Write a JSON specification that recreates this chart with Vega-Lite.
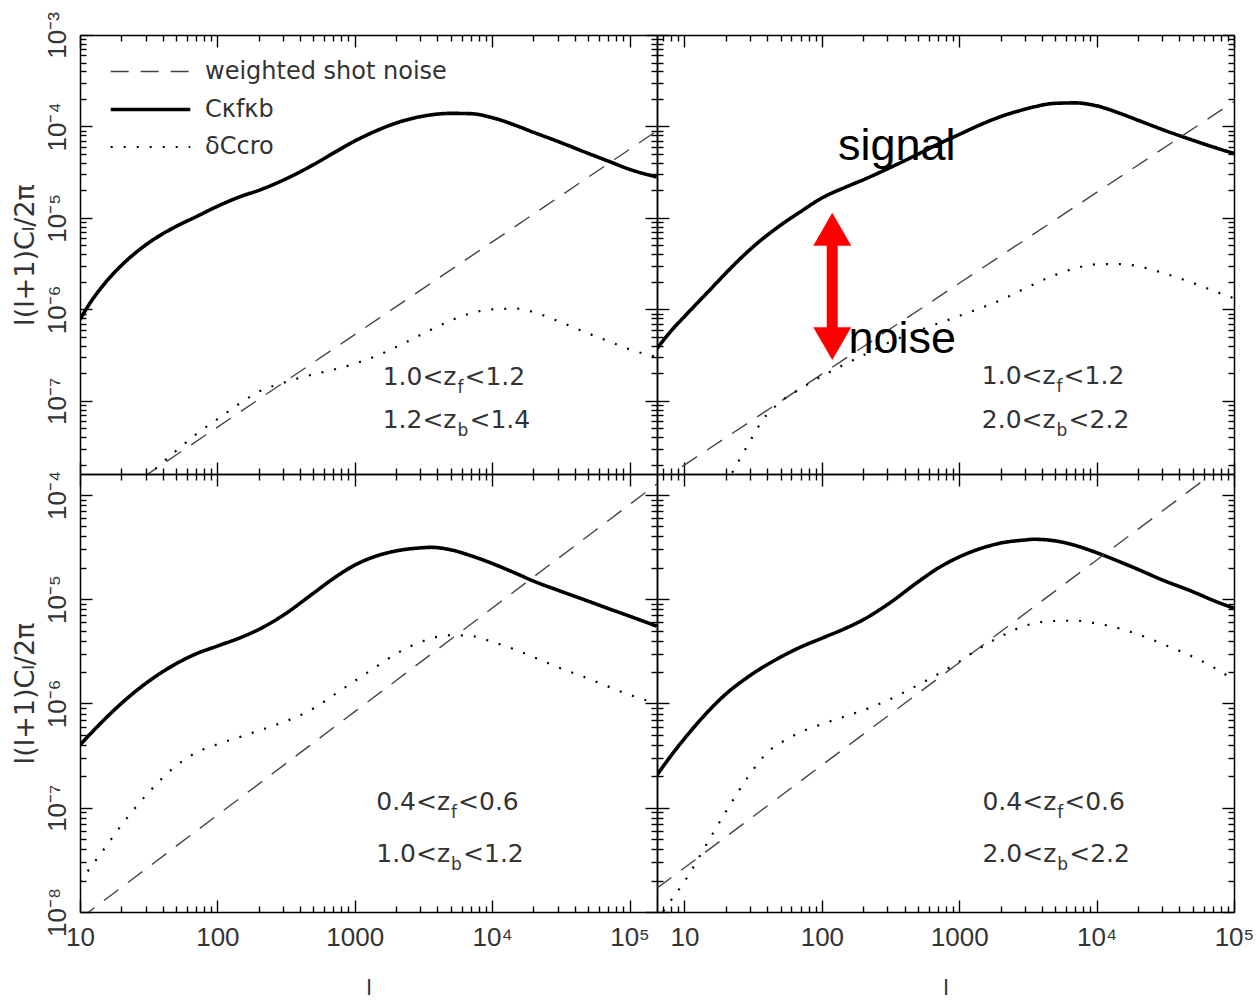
{
  "$schema": "https://vega.github.io/schema/vega-lite/v6.json",
  "background": "white",
  "padding": {"left": 10, "top": 11, "right": 0, "bottom": 0},
  "config": {
    "view": {"stroke": null},
    "axis": {"grid": false, "domainColor": "#000", "domainWidth": 1.5, "tickColor": "#000", "tickWidth": 1.4, "labelFont": "Liberation Sans", "labelFontSize": 26, "labelColor": "#333", "labelOverlap": false, "labelFlush": false, "labelBound": false, "titleFont": "DejaVu Sans", "titleFontSize": 27, "titleFontWeight": "normal", "titleColor": "#333"}
  },
  "datasets": {
    "curves": [
      {"panel":"TL","series":"signal","l":10,"v":7.74e-7},{"panel":"TL","series":"signal","l":12,"v":1.21e-6},{"panel":"TL","series":"signal","l":15,"v":1.89e-6},{"panel":"TL","series":"signal","l":20,"v":3.02e-6},{"panel":"TL","series":"signal","l":30,"v":5.05e-6},{"panel":"TL","series":"signal","l":50,"v":8.07e-6},{"panel":"TL","series":"signal","l":70,"v":1.03e-5},{"panel":"TL","series":"signal","l":100,"v":1.34e-5},{"panel":"TL","series":"signal","l":150,"v":1.73e-5},{"panel":"TL","series":"signal","l":200,"v":2.0e-5},{"panel":"TL","series":"signal","l":300,"v":2.58e-5},{"panel":"TL","series":"signal","l":500,"v":3.82e-5},{"panel":"TL","series":"signal","l":700,"v":5.12e-5},{"panel":"TL","series":"signal","l":1000,"v":6.93e-5},{"panel":"TL","series":"signal","l":1500,"v":9.23e-5},{"panel":"TL","series":"signal","l":2000,"v":1.09e-4},{"panel":"TL","series":"signal","l":3000,"v":1.28e-4},{"panel":"TL","series":"signal","l":5000,"v":1.39e-4},{"panel":"TL","series":"signal","l":7000,"v":1.38e-4},{"panel":"TL","series":"signal","l":10000,"v":1.25e-4},{"panel":"TL","series":"signal","l":15000,"v":1.02e-4},{"panel":"TL","series":"signal","l":20000,"v":8.63e-5},{"panel":"TL","series":"signal","l":30000,"v":6.87e-5},{"panel":"TL","series":"signal","l":50000,"v":5.08e-5},{"panel":"TL","series":"signal","l":70000,"v":4.18e-5},{"panel":"TL","series":"signal","l":100000,"v":3.40e-5},{"panel":"TL","series":"signal","l":158000,"v":2.80e-5},
      {"panel":"TL","series":"noise","l":28,"v":1.42e-8},{"panel":"TL","series":"noise","l":1000,"v":5.30e-7},{"panel":"TL","series":"noise","l":158000,"v":8.93e-5},
      {"panel":"TL","series":"cross","l":30,"v":1.45e-8},{"panel":"TL","series":"cross","l":50,"v":2.84e-8},{"panel":"TL","series":"cross","l":70,"v":4.31e-8},{"panel":"TL","series":"cross","l":100,"v":6.30e-8},{"panel":"TL","series":"cross","l":150,"v":9.66e-8},{"panel":"TL","series":"cross","l":200,"v":1.26e-7},{"panel":"TL","series":"cross","l":300,"v":1.57e-7},{"panel":"TL","series":"cross","l":500,"v":1.95e-7},{"panel":"TL","series":"cross","l":700,"v":2.19e-7},{"panel":"TL","series":"cross","l":1000,"v":2.55e-7},{"panel":"TL","series":"cross","l":1500,"v":3.18e-7},{"panel":"TL","series":"cross","l":2000,"v":3.87e-7},{"panel":"TL","series":"cross","l":3000,"v":5.24e-7},{"panel":"TL","series":"cross","l":5000,"v":7.55e-7},{"panel":"TL","series":"cross","l":7000,"v":9.06e-7},{"panel":"TL","series":"cross","l":10000,"v":1.0e-6},{"panel":"TL","series":"cross","l":15000,"v":1.02e-6},{"panel":"TL","series":"cross","l":20000,"v":9.35e-7},{"panel":"TL","series":"cross","l":30000,"v":7.48e-7},{"panel":"TL","series":"cross","l":50000,"v":5.46e-7},{"panel":"TL","series":"cross","l":70000,"v":4.49e-7},{"panel":"TL","series":"cross","l":100000,"v":3.66e-7},{"panel":"TL","series":"cross","l":158000,"v":3.0e-7},
      {"panel":"TR","series":"signal","l":6.31,"v":3.73e-7},{"panel":"TR","series":"signal","l":8,"v":5.83e-7},{"panel":"TR","series":"signal","l":10,"v":8.36e-7},{"panel":"TR","series":"signal","l":15,"v":1.58e-6},{"panel":"TR","series":"signal","l":20,"v":2.49e-6},{"panel":"TR","series":"signal","l":30,"v":4.51e-6},{"panel":"TR","series":"signal","l":50,"v":8.32e-6},{"panel":"TR","series":"signal","l":70,"v":1.17e-5},{"panel":"TR","series":"signal","l":100,"v":1.65e-5},{"panel":"TR","series":"signal","l":150,"v":2.18e-5},{"panel":"TR","series":"signal","l":200,"v":2.61e-5},{"panel":"TR","series":"signal","l":300,"v":3.44e-5},{"panel":"TR","series":"signal","l":500,"v":4.97e-5},{"panel":"TR","series":"signal","l":700,"v":6.40e-5},{"panel":"TR","series":"signal","l":1000,"v":8.18e-5},{"panel":"TR","series":"signal","l":1500,"v":1.08e-4},{"panel":"TR","series":"signal","l":2000,"v":1.28e-4},{"panel":"TR","series":"signal","l":3000,"v":1.54e-4},{"panel":"TR","series":"signal","l":5000,"v":1.79e-4},{"panel":"TR","series":"signal","l":7000,"v":1.81e-4},{"panel":"TR","series":"signal","l":10000,"v":1.68e-4},{"panel":"TR","series":"signal","l":15000,"v":1.38e-4},{"panel":"TR","series":"signal","l":20000,"v":1.17e-4},{"panel":"TR","series":"signal","l":30000,"v":9.27e-5},{"panel":"TR","series":"signal","l":50000,"v":7.08e-5},{"panel":"TR","series":"signal","l":70000,"v":5.98e-5},{"panel":"TR","series":"signal","l":100000,"v":5.07e-5},
      {"panel":"TR","series":"noise","l":6.31,"v":1.26e-8},{"panel":"TR","series":"noise","l":1000,"v":1.93e-6},{"panel":"TR","series":"noise","l":100000,"v":1.87e-4},
      {"panel":"TR","series":"cross","l":20,"v":1.23e-8},{"panel":"TR","series":"cross","l":25,"v":2.24e-8},{"panel":"TR","series":"cross","l":30,"v":3.62e-8},{"panel":"TR","series":"cross","l":37,"v":6.14e-8},{"panel":"TR","series":"cross","l":50,"v":9.75e-8},{"panel":"TR","series":"cross","l":70,"v":1.36e-7},{"panel":"TR","series":"cross","l":100,"v":1.86e-7},{"panel":"TR","series":"cross","l":150,"v":2.55e-7},{"panel":"TR","series":"cross","l":200,"v":3.15e-7},{"panel":"TR","series":"cross","l":300,"v":4.27e-7},{"panel":"TR","series":"cross","l":500,"v":5.82e-7},{"panel":"TR","series":"cross","l":700,"v":7.0e-7},{"panel":"TR","series":"cross","l":1000,"v":8.47e-7},{"panel":"TR","series":"cross","l":1500,"v":1.06e-6},{"panel":"TR","series":"cross","l":2000,"v":1.26e-6},{"panel":"TR","series":"cross","l":3000,"v":1.69e-6},{"panel":"TR","series":"cross","l":5000,"v":2.38e-6},{"panel":"TR","series":"cross","l":7000,"v":2.82e-6},{"panel":"TR","series":"cross","l":10000,"v":3.11e-6},{"panel":"TR","series":"cross","l":15000,"v":3.13e-6},{"panel":"TR","series":"cross","l":20000,"v":2.97e-6},{"panel":"TR","series":"cross","l":30000,"v":2.52e-6},{"panel":"TR","series":"cross","l":50000,"v":1.95e-6},{"panel":"TR","series":"cross","l":70000,"v":1.61e-6},{"panel":"TR","series":"cross","l":100000,"v":1.32e-6},
      {"panel":"BL","series":"signal","l":10,"v":4.0e-7},{"panel":"BL","series":"signal","l":15,"v":6.98e-7},{"panel":"BL","series":"signal","l":20,"v":1.0e-6},{"panel":"BL","series":"signal","l":30,"v":1.55e-6},{"panel":"BL","series":"signal","l":50,"v":2.40e-6},{"panel":"BL","series":"signal","l":70,"v":2.99e-6},{"panel":"BL","series":"signal","l":100,"v":3.55e-6},{"panel":"BL","series":"signal","l":150,"v":4.32e-6},{"panel":"BL","series":"signal","l":200,"v":5.12e-6},{"panel":"BL","series":"signal","l":300,"v":6.98e-6},{"panel":"BL","series":"signal","l":500,"v":1.14e-5},{"panel":"BL","series":"signal","l":700,"v":1.58e-5},{"panel":"BL","series":"signal","l":1000,"v":2.12e-5},{"panel":"BL","series":"signal","l":1500,"v":2.64e-5},{"panel":"BL","series":"signal","l":2000,"v":2.90e-5},{"panel":"BL","series":"signal","l":3000,"v":3.10e-5},{"panel":"BL","series":"signal","l":3600,"v":3.14e-5},{"panel":"BL","series":"signal","l":5000,"v":2.97e-5},{"panel":"BL","series":"signal","l":7000,"v":2.61e-5},{"panel":"BL","series":"signal","l":10000,"v":2.20e-5},{"panel":"BL","series":"signal","l":15000,"v":1.76e-5},{"panel":"BL","series":"signal","l":20000,"v":1.49e-5},{"panel":"BL","series":"signal","l":30000,"v":1.22e-5},{"panel":"BL","series":"signal","l":50000,"v":9.57e-6},{"panel":"BL","series":"signal","l":70000,"v":8.13e-6},{"panel":"BL","series":"signal","l":100000,"v":6.87e-6},{"panel":"BL","series":"signal","l":158000,"v":5.51e-6},
      {"panel":"BL","series":"noise","l":10,"v":8.65e-9},{"panel":"BL","series":"noise","l":1000,"v":8.34e-7},{"panel":"BL","series":"noise","l":158000,"v":1.27e-4},
      {"panel":"BL","series":"cross","l":10,"v":1.95e-8},{"panel":"BL","series":"cross","l":15,"v":4.03e-8},{"panel":"BL","series":"cross","l":20,"v":6.78e-8},{"panel":"BL","series":"cross","l":30,"v":1.30e-7},{"panel":"BL","series":"cross","l":50,"v":2.52e-7},{"panel":"BL","series":"cross","l":70,"v":3.37e-7},{"panel":"BL","series":"cross","l":100,"v":4.05e-7},{"panel":"BL","series":"cross","l":150,"v":4.83e-7},{"panel":"BL","series":"cross","l":200,"v":5.48e-7},{"panel":"BL","series":"cross","l":300,"v":6.59e-7},{"panel":"BL","series":"cross","l":500,"v":8.93e-7},{"panel":"BL","series":"cross","l":700,"v":1.20e-6},{"panel":"BL","series":"cross","l":1000,"v":1.64e-6},{"panel":"BL","series":"cross","l":1500,"v":2.34e-6},{"panel":"BL","series":"cross","l":2000,"v":2.99e-6},{"panel":"BL","series":"cross","l":3000,"v":3.87e-6},{"panel":"BL","series":"cross","l":5000,"v":4.51e-6},{"panel":"BL","series":"cross","l":7000,"v":4.44e-6},{"panel":"BL","series":"cross","l":10000,"v":3.90e-6},{"panel":"BL","series":"cross","l":15000,"v":3.25e-6},{"panel":"BL","series":"cross","l":20000,"v":2.78e-6},{"panel":"BL","series":"cross","l":30000,"v":2.23e-6},{"panel":"BL","series":"cross","l":50000,"v":1.73e-6},{"panel":"BL","series":"cross","l":70000,"v":1.45e-6},{"panel":"BL","series":"cross","l":100000,"v":1.21e-6},{"panel":"BL","series":"cross","l":158000,"v":1.0e-6},
      {"panel":"BR","series":"signal","l":6.31,"v":2.06e-7},{"panel":"BR","series":"signal","l":8,"v":3.17e-7},{"panel":"BR","series":"signal","l":10,"v":4.60e-7},{"panel":"BR","series":"signal","l":15,"v":8.49e-7},{"panel":"BR","series":"signal","l":20,"v":1.23e-6},{"panel":"BR","series":"signal","l":30,"v":1.85e-6},{"panel":"BR","series":"signal","l":50,"v":2.78e-6},{"panel":"BR","series":"signal","l":70,"v":3.47e-6},{"panel":"BR","series":"signal","l":100,"v":4.22e-6},{"panel":"BR","series":"signal","l":150,"v":5.28e-6},{"panel":"BR","series":"signal","l":200,"v":6.35e-6},{"panel":"BR","series":"signal","l":300,"v":8.87e-6},{"panel":"BR","series":"signal","l":500,"v":1.46e-5},{"panel":"BR","series":"signal","l":700,"v":1.98e-5},{"panel":"BR","series":"signal","l":1000,"v":2.54e-5},{"panel":"BR","series":"signal","l":1500,"v":3.12e-5},{"panel":"BR","series":"signal","l":2000,"v":3.45e-5},{"panel":"BR","series":"signal","l":3000,"v":3.69e-5},{"panel":"BR","series":"signal","l":3500,"v":3.75e-5},{"panel":"BR","series":"signal","l":5000,"v":3.62e-5},{"panel":"BR","series":"signal","l":7000,"v":3.27e-5},{"panel":"BR","series":"signal","l":10000,"v":2.79e-5},{"panel":"BR","series":"signal","l":15000,"v":2.26e-5},{"panel":"BR","series":"signal","l":20000,"v":1.93e-5},{"panel":"BR","series":"signal","l":30000,"v":1.53e-5},{"panel":"BR","series":"signal","l":50000,"v":1.18e-5},{"panel":"BR","series":"signal","l":70000,"v":9.77e-6},{"panel":"BR","series":"signal","l":100000,"v":8.17e-6},
      {"panel":"BR","series":"noise","l":6.31,"v":1.69e-8},{"panel":"BR","series":"noise","l":1000,"v":2.46e-6},{"panel":"BR","series":"noise","l":100000,"v":2.28e-4},
      {"panel":"BR","series":"cross","l":7,"v":1.02e-8},{"panel":"BR","series":"cross","l":8,"v":1.30e-8},{"panel":"BR","series":"cross","l":10,"v":1.96e-8},{"panel":"BR","series":"cross","l":15,"v":4.84e-8},{"panel":"BR","series":"cross","l":20,"v":9.16e-8},{"panel":"BR","series":"cross","l":30,"v":2.10e-7},{"panel":"BR","series":"cross","l":42,"v":3.58e-7},{"panel":"BR","series":"cross","l":50,"v":4.18e-7},{"panel":"BR","series":"cross","l":70,"v":5.31e-7},{"panel":"BR","series":"cross","l":100,"v":6.32e-7},{"panel":"BR","series":"cross","l":150,"v":7.57e-7},{"panel":"BR","series":"cross","l":200,"v":8.59e-7},{"panel":"BR","series":"cross","l":300,"v":1.07e-6},{"panel":"BR","series":"cross","l":500,"v":1.50e-6},{"panel":"BR","series":"cross","l":700,"v":1.91e-6},{"panel":"BR","series":"cross","l":1000,"v":2.52e-6},{"panel":"BR","series":"cross","l":1500,"v":3.56e-6},{"panel":"BR","series":"cross","l":2000,"v":4.38e-6},{"panel":"BR","series":"cross","l":3000,"v":5.55e-6},{"panel":"BR","series":"cross","l":5000,"v":6.18e-6},{"panel":"BR","series":"cross","l":7000,"v":6.21e-6},{"panel":"BR","series":"cross","l":10000,"v":5.85e-6},{"panel":"BR","series":"cross","l":15000,"v":5.19e-6},{"panel":"BR","series":"cross","l":20000,"v":4.60e-6},{"panel":"BR","series":"cross","l":30000,"v":3.73e-6},{"panel":"BR","series":"cross","l":50000,"v":2.81e-6},{"panel":"BR","series":"cross","l":70000,"v":2.24e-6},{"panel":"BR","series":"cross","l":100000,"v":1.68e-6}
    ],
    "zlabels": [
      {"panel":"TL","l":5500,"v":1.48e-7,"head":"1.0<z","sub":"f","tail":"<1.2"},
      {"panel":"TL","l":5500,"v":5.01e-8,"head":"1.2<z","sub":"b","tail":"<1.4"},
      {"panel":"TR","l":5030,"v":1.52e-7,"head":"1.0<z","sub":"f","tail":"<1.2"},
      {"panel":"TR","l":5030,"v":5.01e-8,"head":"2.0<z","sub":"b","tail":"<2.2"},
      {"panel":"BL","l":4940,"v":9.53e-8,"head":"0.4<z","sub":"f","tail":"<0.6"},
      {"panel":"BL","l":4940,"v":3.02e-8,"head":"1.0<z","sub":"b","tail":"<1.2"},
      {"panel":"BR","l":5085,"v":9.53e-8,"head":"0.4<z","sub":"f","tail":"<0.6"},
      {"panel":"BR","l":5085,"v":3.02e-8,"head":"2.0<z","sub":"b","tail":"<2.2"}
    ],
    "words": [
      {"panel":"TR","l":351,"v":4.28e-5,"word":"signal"},
      {"panel":"TR","l":385,"v":3.32e-7,"word":"noise"}
    ],
    "arrow": [
      {"panel":"TR","l":119,"v":7.53e-6,"v2":4.22e-7}
    ],
    "heads": [
      {"panel":"TR","l":119,"v":7.53e-6,"dir":"up"},
      {"panel":"TR","l":119,"v":4.22e-7,"dir":"down"}
    ]
  },
  "columns": 2,
  "spacing": 0,
  "bounds": "flush",
  "resolve": {"scale": {"color": "independent", "strokeDash": "independent", "strokeWidth": "independent", "shape": "independent"}},
  "concat": [
    {
      "width": 577, "height": 439,
      "resolve": {"axis": {"x": "independent", "y": "independent"}},
      "layer": [
        {
          "data": {"name": "curves"},
          "transform": [{"filter": "datum.panel == 'TL'"}],
          "mark": {"type": "line", "clip": true, "interpolate": "monotone"},
          "encoding": {
            "x": {"field": "l", "type": "quantitative", "scale": {"type": "log", "domain": [10, 158489], "nice": false},
              "axis": {"orient": "bottom", "values": [10,20,30,40,50,60,70,80,90,100,200,300,400,500,600,700,800,900,1000,2000,3000,4000,5000,6000,7000,8000,9000,10000,20000,30000,40000,50000,60000,70000,80000,90000,100000], "labels": false, "title": null,
                "tickSize": {"condition": {"test": "abs(log(datum.value)/LN10 - round(log(datum.value)/LN10)) < 0.001", "value": -12}, "value": -6}}},
            "y": {"field": "v", "type": "quantitative", "scale": {"type": "log", "domain": [1.585e-8, 1e-3], "nice": false},
              "axis": {"orient": "left", "values": [2e-8,3e-8,4e-8,5e-8,6e-8,7e-8,8e-8,9e-8,1e-7,2e-7,3e-7,4e-7,5e-7,6e-7,7e-7,8e-7,9e-7,1e-6,2e-6,3e-6,4e-6,5e-6,6e-6,7e-6,8e-6,9e-6,1e-5,2e-5,3e-5,4e-5,5e-5,6e-5,7e-5,8e-5,9e-5,1e-4,2e-4,3e-4,4e-4,5e-4,6e-4,7e-4,8e-4,9e-4,1e-3],
                "labelExpr": "datum.value == 1e-3 ? '10⁻³' : datum.value == 1e-4 ? '10⁻⁴' : datum.value == 1e-5 ? '10⁻⁵' : datum.value == 1e-6 ? '10⁻⁶' : datum.value == 1e-7 ? '10⁻⁷' : datum.value == 1e-8 ? '10⁻⁸' : ''",
                "labelAngle": 270, "labelAlign": "center", "labelBaseline": "alphabetic", "labelPadding": 27,
                "tickSize": {"condition": {"test": "abs(log(datum.value)/LN10 - round(log(datum.value)/LN10)) < 0.001", "value": -12}, "value": -6},
                "title": "l(l+1)Cₗ/2π", "titlePadding": -1}},
            "color": {"field": "series", "type": "nominal", "scale": {"domain": ["noise", "signal", "cross"], "range": ["#444444", "#000000", "#000000"]},
              "legend": {"orient": "none", "legendX": 52, "legendY": 19, "title": null, "padding": 0, "symbolType": "M-2.4,0H2.4", "symbolSize": 1100, "labelFont": "DejaVu Sans", "labelFontSize": 24, "labelColor": "#333", "labelOffset": 36, "rowPadding": 7, "labelLimit": 400,
                "labelExpr": "datum.value == 'noise' ? 'weighted shot noise' : datum.value == 'signal' ? 'Cκfκb' : 'δCcro'"}},
            "strokeDash": {"field": "series", "type": "nominal", "scale": {"domain": ["noise", "signal", "cross"], "range": [[18, 12], [1, 0], [2, 11]]},
              "legend": {"orient": "none", "legendX": 52, "legendY": 19, "title": null, "padding": 0, "symbolType": "M-2.4,0H2.4", "symbolSize": 1100, "labelFont": "DejaVu Sans", "labelFontSize": 24, "labelColor": "#333", "labelOffset": 36, "rowPadding": 7, "labelLimit": 400,
                "labelExpr": "datum.value == 'noise' ? 'weighted shot noise' : datum.value == 'signal' ? 'Cκfκb' : 'δCcro'"}},
            "strokeWidth": {"field": "series", "type": "nominal", "scale": {"type": "ordinal", "domain": ["noise", "signal", "cross"], "range": [1.4, 3.6, 2.2]},
              "legend": {"orient": "none", "legendX": 52, "legendY": 19, "title": null, "padding": 0, "symbolType": "M-2.4,0H2.4", "symbolSize": 1100, "labelFont": "DejaVu Sans", "labelFontSize": 24, "labelColor": "#333", "labelOffset": 36, "rowPadding": 7, "labelLimit": 400,
                "labelExpr": "datum.value == 'noise' ? 'weighted shot noise' : datum.value == 'signal' ? 'Cκfκb' : 'δCcro'"}}
          }
        },
        {
          "data": {"name": "zlabels"},
          "transform": [{"filter": "datum.panel == 'TL'"}],
          "mark": {"type": "text", "align": "right", "baseline": "alphabetic", "font": "DejaVu Sans", "fontSize": 25, "color": "#333"},
          "encoding": {
            "x": {"field": "l", "type": "quantitative", "scale": {"type": "log", "domain": [10, 158489], "nice": false},
              "axis": {"orient": "top", "values": [10,20,30,40,50,60,70,80,90,100,200,300,400,500,600,700,800,900,1000,2000,3000,4000,5000,6000,7000,8000,9000,10000,20000,30000,40000,50000,60000,70000,80000,90000,100000], "labels": false, "title": null,
                "tickSize": {"condition": {"test": "abs(log(datum.value)/LN10 - round(log(datum.value)/LN10)) < 0.001", "value": -12}, "value": -6}}},
            "y": {"field": "v", "type": "quantitative", "scale": {"type": "log", "domain": [1.585e-8, 1e-3], "nice": false},
              "axis": {"orient": "right", "values": [2e-8,3e-8,4e-8,5e-8,6e-8,7e-8,8e-8,9e-8,1e-7,2e-7,3e-7,4e-7,5e-7,6e-7,7e-7,8e-7,9e-7,1e-6,2e-6,3e-6,4e-6,5e-6,6e-6,7e-6,8e-6,9e-6,1e-5,2e-5,3e-5,4e-5,5e-5,6e-5,7e-5,8e-5,9e-5,1e-4,2e-4,3e-4,4e-4,5e-4,6e-4,7e-4,8e-4,9e-4,1e-3], "labels": false, "title": null,
                "tickSize": {"condition": {"test": "abs(log(datum.value)/LN10 - round(log(datum.value)/LN10)) < 0.001", "value": -12}, "value": -6}}},
            "text": {"field": "head"}
          }
        },
        {
          "data": {"name": "zlabels"},
          "transform": [{"filter": "datum.panel == 'TL'"}],
          "mark": {"type": "text", "align": "left", "baseline": "alphabetic", "font": "DejaVu Sans", "fontSize": 17, "color": "#333", "dx": 1, "dy": 8},
          "encoding": {
            "x": {"field": "l", "type": "quantitative", "scale": {"type": "log", "domain": [10, 158489], "nice": false}, "axis": null},
            "y": {"field": "v", "type": "quantitative", "scale": {"type": "log", "domain": [1.585e-8, 1e-3], "nice": false}, "axis": null},
            "text": {"field": "sub"}
          }
        },
        {
          "data": {"name": "zlabels"},
          "transform": [{"filter": "datum.panel == 'TL' && datum.sub == 'f'"}],
          "mark": {"type": "text", "align": "left", "baseline": "alphabetic", "font": "DejaVu Sans", "fontSize": 25, "color": "#333", "dx": 8},
          "encoding": {
            "x": {"field": "l", "type": "quantitative", "scale": {"type": "log", "domain": [10, 158489], "nice": false}, "axis": null},
            "y": {"field": "v", "type": "quantitative", "scale": {"type": "log", "domain": [1.585e-8, 1e-3], "nice": false}, "axis": null},
            "text": {"field": "tail"}
          }
        },
        {
          "data": {"name": "zlabels"},
          "transform": [{"filter": "datum.panel == 'TL' && datum.sub == 'b'"}],
          "mark": {"type": "text", "align": "left", "baseline": "alphabetic", "font": "DejaVu Sans", "fontSize": 25, "color": "#333", "dx": 13},
          "encoding": {
            "x": {"field": "l", "type": "quantitative", "scale": {"type": "log", "domain": [10, 158489], "nice": false}, "axis": null},
            "y": {"field": "v", "type": "quantitative", "scale": {"type": "log", "domain": [1.585e-8, 1e-3], "nice": false}, "axis": null},
            "text": {"field": "tail"}
          }
        }
      ]
    },
    {
      "width": 577, "height": 439,
      "resolve": {"axis": {"x": "independent", "y": "independent"}},
      "layer": [
        {
          "data": {"name": "curves"},
          "transform": [{"filter": "datum.panel == 'TR'"}],
          "mark": {"type": "line", "clip": true, "interpolate": "monotone"},
          "encoding": {
            "x": {"field": "l", "type": "quantitative", "scale": {"type": "log", "domain": [6.3096, 100000], "nice": false},
              "axis": {"orient": "bottom", "values": [7,8,9,10,20,30,40,50,60,70,80,90,100,200,300,400,500,600,700,800,900,1000,2000,3000,4000,5000,6000,7000,8000,9000,10000,20000,30000,40000,50000,60000,70000,80000,90000,100000], "labels": false, "title": null,
                "tickSize": {"condition": {"test": "abs(log(datum.value)/LN10 - round(log(datum.value)/LN10)) < 0.001", "value": -12}, "value": -6}}},
            "y": {"field": "v", "type": "quantitative", "scale": {"type": "log", "domain": [1.585e-8, 1e-3], "nice": false},
              "axis": {"orient": "left", "values": [2e-8,3e-8,4e-8,5e-8,6e-8,7e-8,8e-8,9e-8,1e-7,2e-7,3e-7,4e-7,5e-7,6e-7,7e-7,8e-7,9e-7,1e-6,2e-6,3e-6,4e-6,5e-6,6e-6,7e-6,8e-6,9e-6,1e-5,2e-5,3e-5,4e-5,5e-5,6e-5,7e-5,8e-5,9e-5,1e-4,2e-4,3e-4,4e-4,5e-4,6e-4,7e-4,8e-4,9e-4,1e-3], "labels": false, "title": null,
                "tickSize": {"condition": {"test": "abs(log(datum.value)/LN10 - round(log(datum.value)/LN10)) < 0.001", "value": -12}, "value": -6}}},
            "color": {"field": "series", "type": "nominal", "scale": {"domain": ["noise", "signal", "cross"], "range": ["#444444", "#000000", "#000000"]}, "legend": null},
            "strokeDash": {"field": "series", "type": "nominal", "scale": {"domain": ["noise", "signal", "cross"], "range": [[18, 12], [1, 0], [2, 11]]}, "legend": null},
            "strokeWidth": {"field": "series", "type": "nominal", "scale": {"type": "ordinal", "domain": ["noise", "signal", "cross"], "range": [1.4, 3.6, 2.2]}, "legend": null}
          }
        },
        {
          "data": {"name": "zlabels"},
          "transform": [{"filter": "datum.panel == 'TR'"}],
          "mark": {"type": "text", "align": "right", "baseline": "alphabetic", "font": "DejaVu Sans", "fontSize": 25, "color": "#333"},
          "encoding": {
            "x": {"field": "l", "type": "quantitative", "scale": {"type": "log", "domain": [6.3096, 100000], "nice": false},
              "axis": {"orient": "top", "values": [7,8,9,10,20,30,40,50,60,70,80,90,100,200,300,400,500,600,700,800,900,1000,2000,3000,4000,5000,6000,7000,8000,9000,10000,20000,30000,40000,50000,60000,70000,80000,90000,100000], "labels": false, "title": null,
                "tickSize": {"condition": {"test": "abs(log(datum.value)/LN10 - round(log(datum.value)/LN10)) < 0.001", "value": -12}, "value": -6}}},
            "y": {"field": "v", "type": "quantitative", "scale": {"type": "log", "domain": [1.585e-8, 1e-3], "nice": false},
              "axis": {"orient": "right", "values": [2e-8,3e-8,4e-8,5e-8,6e-8,7e-8,8e-8,9e-8,1e-7,2e-7,3e-7,4e-7,5e-7,6e-7,7e-7,8e-7,9e-7,1e-6,2e-6,3e-6,4e-6,5e-6,6e-6,7e-6,8e-6,9e-6,1e-5,2e-5,3e-5,4e-5,5e-5,6e-5,7e-5,8e-5,9e-5,1e-4,2e-4,3e-4,4e-4,5e-4,6e-4,7e-4,8e-4,9e-4,1e-3], "labels": false, "title": null,
                "tickSize": {"condition": {"test": "abs(log(datum.value)/LN10 - round(log(datum.value)/LN10)) < 0.001", "value": -12}, "value": -6}}},
            "text": {"field": "head"}
          }
        },
        {
          "data": {"name": "zlabels"},
          "transform": [{"filter": "datum.panel == 'TR'"}],
          "mark": {"type": "text", "align": "left", "baseline": "alphabetic", "font": "DejaVu Sans", "fontSize": 17, "color": "#333", "dx": 1, "dy": 8},
          "encoding": {
            "x": {"field": "l", "type": "quantitative", "scale": {"type": "log", "domain": [6.3096, 100000], "nice": false}, "axis": null},
            "y": {"field": "v", "type": "quantitative", "scale": {"type": "log", "domain": [1.585e-8, 1e-3], "nice": false}, "axis": null},
            "text": {"field": "sub"}
          }
        },
        {
          "data": {"name": "zlabels"},
          "transform": [{"filter": "datum.panel == 'TR' && datum.sub == 'f'"}],
          "mark": {"type": "text", "align": "left", "baseline": "alphabetic", "font": "DejaVu Sans", "fontSize": 25, "color": "#333", "dx": 8},
          "encoding": {
            "x": {"field": "l", "type": "quantitative", "scale": {"type": "log", "domain": [6.3096, 100000], "nice": false}, "axis": null},
            "y": {"field": "v", "type": "quantitative", "scale": {"type": "log", "domain": [1.585e-8, 1e-3], "nice": false}, "axis": null},
            "text": {"field": "tail"}
          }
        },
        {
          "data": {"name": "zlabels"},
          "transform": [{"filter": "datum.panel == 'TR' && datum.sub == 'b'"}],
          "mark": {"type": "text", "align": "left", "baseline": "alphabetic", "font": "DejaVu Sans", "fontSize": 25, "color": "#333", "dx": 13},
          "encoding": {
            "x": {"field": "l", "type": "quantitative", "scale": {"type": "log", "domain": [6.3096, 100000], "nice": false}, "axis": null},
            "y": {"field": "v", "type": "quantitative", "scale": {"type": "log", "domain": [1.585e-8, 1e-3], "nice": false}, "axis": null},
            "text": {"field": "tail"}
          }
        },
        {
          "data": {"name": "words"},
          "transform": [{"filter": "datum.panel == 'TR'"}],
          "mark": {"type": "text", "align": "center", "baseline": "alphabetic", "font": "Liberation Sans", "fontSize": 45, "color": "#000"},
          "encoding": {
            "x": {"field": "l", "type": "quantitative", "scale": {"type": "log", "domain": [6.3096, 100000], "nice": false}, "axis": null},
            "y": {"field": "v", "type": "quantitative", "scale": {"type": "log", "domain": [1.585e-8, 1e-3], "nice": false}, "axis": null},
            "text": {"field": "word"}
          }
        },
        {
          "data": {"name": "arrow"},
          "transform": [{"filter": "datum.panel == 'TR'"}],
          "mark": {"type": "rule", "color": "#ff0000", "strokeWidth": 11},
          "encoding": {
            "x": {"field": "l", "type": "quantitative", "scale": {"type": "log", "domain": [6.3096, 100000], "nice": false}, "axis": null},
            "y": {"field": "v", "type": "quantitative", "scale": {"type": "log", "domain": [1.585e-8, 1e-3], "nice": false}, "axis": null},
            "y2": {"field": "v2"}
          }
        },
        {
          "data": {"name": "heads"},
          "transform": [{"filter": "datum.panel == 'TR'"}],
          "mark": {"type": "point", "filled": true, "size": 1444, "color": "#ff0000", "opacity": 1, "strokeWidth": 0},
          "encoding": {
            "x": {"field": "l", "type": "quantitative", "scale": {"type": "log", "domain": [6.3096, 100000], "nice": false}, "axis": null},
            "y": {"field": "v", "type": "quantitative", "scale": {"type": "log", "domain": [1.585e-8, 1e-3], "nice": false}, "axis": null},
            "shape": {"field": "dir", "type": "nominal", "scale": {"domain": ["up", "down"], "range": ["triangle-up", "triangle-down"]}, "legend": null}
          }
        }
      ]
    },
    {
      "width": 577, "height": 438,
      "resolve": {"axis": {"x": "independent", "y": "independent"}},
      "layer": [
        {
          "data": {"name": "curves"},
          "transform": [{"filter": "datum.panel == 'BL'"}],
          "mark": {"type": "line", "clip": true, "interpolate": "monotone"},
          "encoding": {
            "x": {"field": "l", "type": "quantitative", "scale": {"type": "log", "domain": [10, 158489], "nice": false},
              "axis": {"orient": "bottom", "values": [10,20,30,40,50,60,70,80,90,100,200,300,400,500,600,700,800,900,1000,2000,3000,4000,5000,6000,7000,8000,9000,10000,20000,30000,40000,50000,60000,70000,80000,90000,100000],
                "labelExpr": "datum.value == 10 ? '10' : datum.value == 100 ? '100' : datum.value == 1000 ? '1000' : datum.value == 10000 ? '10⁴' : datum.value == 100000 ? '10⁵' : ''",
                "labelAngle": 0, "labelAlign": "center", "labelBaseline": "top", "labelPadding": 24,
                "tickSize": {"condition": {"test": "abs(log(datum.value)/LN10 - round(log(datum.value)/LN10)) < 0.001", "value": -12}, "value": -6},
                "title": "l", "titleFontSize": 22, "titlePadding": 21}},
            "y": {"field": "v", "type": "quantitative", "scale": {"type": "log", "domain": [1e-8, 1.585e-4], "nice": false},
              "axis": {"orient": "left", "values": [1e-8,2e-8,3e-8,4e-8,5e-8,6e-8,7e-8,8e-8,9e-8,1e-7,2e-7,3e-7,4e-7,5e-7,6e-7,7e-7,8e-7,9e-7,1e-6,2e-6,3e-6,4e-6,5e-6,6e-6,7e-6,8e-6,9e-6,1e-5,2e-5,3e-5,4e-5,5e-5,6e-5,7e-5,8e-5,9e-5,1e-4],
                "labelExpr": "datum.value == 1e-3 ? '10⁻³' : datum.value == 1e-4 ? '10⁻⁴' : datum.value == 1e-5 ? '10⁻⁵' : datum.value == 1e-6 ? '10⁻⁶' : datum.value == 1e-7 ? '10⁻⁷' : datum.value == 1e-8 ? '10⁻⁸' : ''",
                "labelAngle": 270, "labelAlign": "center", "labelBaseline": "alphabetic", "labelPadding": 27,
                "tickSize": {"condition": {"test": "abs(log(datum.value)/LN10 - round(log(datum.value)/LN10)) < 0.001", "value": -12}, "value": -6},
                "title": "l(l+1)Cₗ/2π", "titlePadding": -1}},
            "color": {"field": "series", "type": "nominal", "scale": {"domain": ["noise", "signal", "cross"], "range": ["#444444", "#000000", "#000000"]}, "legend": null},
            "strokeDash": {"field": "series", "type": "nominal", "scale": {"domain": ["noise", "signal", "cross"], "range": [[18, 12], [1, 0], [2, 11]]}, "legend": null},
            "strokeWidth": {"field": "series", "type": "nominal", "scale": {"type": "ordinal", "domain": ["noise", "signal", "cross"], "range": [1.4, 3.6, 2.2]}, "legend": null}
          }
        },
        {
          "data": {"name": "zlabels"},
          "transform": [{"filter": "datum.panel == 'BL'"}],
          "mark": {"type": "text", "align": "right", "baseline": "alphabetic", "font": "DejaVu Sans", "fontSize": 25, "color": "#333"},
          "encoding": {
            "x": {"field": "l", "type": "quantitative", "scale": {"type": "log", "domain": [10, 158489], "nice": false},
              "axis": {"orient": "top", "values": [10,20,30,40,50,60,70,80,90,100,200,300,400,500,600,700,800,900,1000,2000,3000,4000,5000,6000,7000,8000,9000,10000,20000,30000,40000,50000,60000,70000,80000,90000,100000], "labels": false, "title": null,
                "tickSize": {"condition": {"test": "abs(log(datum.value)/LN10 - round(log(datum.value)/LN10)) < 0.001", "value": -12}, "value": -6}}},
            "y": {"field": "v", "type": "quantitative", "scale": {"type": "log", "domain": [1e-8, 1.585e-4], "nice": false},
              "axis": {"orient": "right", "values": [1e-8,2e-8,3e-8,4e-8,5e-8,6e-8,7e-8,8e-8,9e-8,1e-7,2e-7,3e-7,4e-7,5e-7,6e-7,7e-7,8e-7,9e-7,1e-6,2e-6,3e-6,4e-6,5e-6,6e-6,7e-6,8e-6,9e-6,1e-5,2e-5,3e-5,4e-5,5e-5,6e-5,7e-5,8e-5,9e-5,1e-4], "labels": false, "title": null,
                "tickSize": {"condition": {"test": "abs(log(datum.value)/LN10 - round(log(datum.value)/LN10)) < 0.001", "value": -12}, "value": -6}}},
            "text": {"field": "head"}
          }
        },
        {
          "data": {"name": "zlabels"},
          "transform": [{"filter": "datum.panel == 'BL'"}],
          "mark": {"type": "text", "align": "left", "baseline": "alphabetic", "font": "DejaVu Sans", "fontSize": 17, "color": "#333", "dx": 1, "dy": 8},
          "encoding": {
            "x": {"field": "l", "type": "quantitative", "scale": {"type": "log", "domain": [10, 158489], "nice": false}, "axis": null},
            "y": {"field": "v", "type": "quantitative", "scale": {"type": "log", "domain": [1e-8, 1.585e-4], "nice": false}, "axis": null},
            "text": {"field": "sub"}
          }
        },
        {
          "data": {"name": "zlabels"},
          "transform": [{"filter": "datum.panel == 'BL' && datum.sub == 'f'"}],
          "mark": {"type": "text", "align": "left", "baseline": "alphabetic", "font": "DejaVu Sans", "fontSize": 25, "color": "#333", "dx": 8},
          "encoding": {
            "x": {"field": "l", "type": "quantitative", "scale": {"type": "log", "domain": [10, 158489], "nice": false}, "axis": null},
            "y": {"field": "v", "type": "quantitative", "scale": {"type": "log", "domain": [1e-8, 1.585e-4], "nice": false}, "axis": null},
            "text": {"field": "tail"}
          }
        },
        {
          "data": {"name": "zlabels"},
          "transform": [{"filter": "datum.panel == 'BL' && datum.sub == 'b'"}],
          "mark": {"type": "text", "align": "left", "baseline": "alphabetic", "font": "DejaVu Sans", "fontSize": 25, "color": "#333", "dx": 13},
          "encoding": {
            "x": {"field": "l", "type": "quantitative", "scale": {"type": "log", "domain": [10, 158489], "nice": false}, "axis": null},
            "y": {"field": "v", "type": "quantitative", "scale": {"type": "log", "domain": [1e-8, 1.585e-4], "nice": false}, "axis": null},
            "text": {"field": "tail"}
          }
        }
      ]
    },
    {
      "width": 577, "height": 438,
      "resolve": {"axis": {"x": "independent", "y": "independent"}},
      "layer": [
        {
          "data": {"name": "curves"},
          "transform": [{"filter": "datum.panel == 'BR'"}],
          "mark": {"type": "line", "clip": true, "interpolate": "monotone"},
          "encoding": {
            "x": {"field": "l", "type": "quantitative", "scale": {"type": "log", "domain": [6.3096, 100000], "nice": false},
              "axis": {"orient": "bottom", "values": [7,8,9,10,20,30,40,50,60,70,80,90,100,200,300,400,500,600,700,800,900,1000,2000,3000,4000,5000,6000,7000,8000,9000,10000,20000,30000,40000,50000,60000,70000,80000,90000,100000],
                "labelExpr": "datum.value == 10 ? '10' : datum.value == 100 ? '100' : datum.value == 1000 ? '1000' : datum.value == 10000 ? '10⁴' : datum.value == 100000 ? '10⁵' : ''",
                "labelAngle": 0, "labelAlign": "center", "labelBaseline": "top", "labelPadding": 24,
                "tickSize": {"condition": {"test": "abs(log(datum.value)/LN10 - round(log(datum.value)/LN10)) < 0.001", "value": -12}, "value": -6},
                "title": "l", "titleFontSize": 22, "titlePadding": 21}},
            "y": {"field": "v", "type": "quantitative", "scale": {"type": "log", "domain": [1e-8, 1.585e-4], "nice": false},
              "axis": {"orient": "left", "values": [1e-8,2e-8,3e-8,4e-8,5e-8,6e-8,7e-8,8e-8,9e-8,1e-7,2e-7,3e-7,4e-7,5e-7,6e-7,7e-7,8e-7,9e-7,1e-6,2e-6,3e-6,4e-6,5e-6,6e-6,7e-6,8e-6,9e-6,1e-5,2e-5,3e-5,4e-5,5e-5,6e-5,7e-5,8e-5,9e-5,1e-4], "labels": false, "title": null,
                "tickSize": {"condition": {"test": "abs(log(datum.value)/LN10 - round(log(datum.value)/LN10)) < 0.001", "value": -12}, "value": -6}}},
            "color": {"field": "series", "type": "nominal", "scale": {"domain": ["noise", "signal", "cross"], "range": ["#444444", "#000000", "#000000"]}, "legend": null},
            "strokeDash": {"field": "series", "type": "nominal", "scale": {"domain": ["noise", "signal", "cross"], "range": [[18, 12], [1, 0], [2, 11]]}, "legend": null},
            "strokeWidth": {"field": "series", "type": "nominal", "scale": {"type": "ordinal", "domain": ["noise", "signal", "cross"], "range": [1.4, 3.6, 2.2]}, "legend": null}
          }
        },
        {
          "data": {"name": "zlabels"},
          "transform": [{"filter": "datum.panel == 'BR'"}],
          "mark": {"type": "text", "align": "right", "baseline": "alphabetic", "font": "DejaVu Sans", "fontSize": 25, "color": "#333"},
          "encoding": {
            "x": {"field": "l", "type": "quantitative", "scale": {"type": "log", "domain": [6.3096, 100000], "nice": false},
              "axis": {"orient": "top", "values": [7,8,9,10,20,30,40,50,60,70,80,90,100,200,300,400,500,600,700,800,900,1000,2000,3000,4000,5000,6000,7000,8000,9000,10000,20000,30000,40000,50000,60000,70000,80000,90000,100000], "labels": false, "title": null,
                "tickSize": {"condition": {"test": "abs(log(datum.value)/LN10 - round(log(datum.value)/LN10)) < 0.001", "value": -12}, "value": -6}}},
            "y": {"field": "v", "type": "quantitative", "scale": {"type": "log", "domain": [1e-8, 1.585e-4], "nice": false},
              "axis": {"orient": "right", "values": [1e-8,2e-8,3e-8,4e-8,5e-8,6e-8,7e-8,8e-8,9e-8,1e-7,2e-7,3e-7,4e-7,5e-7,6e-7,7e-7,8e-7,9e-7,1e-6,2e-6,3e-6,4e-6,5e-6,6e-6,7e-6,8e-6,9e-6,1e-5,2e-5,3e-5,4e-5,5e-5,6e-5,7e-5,8e-5,9e-5,1e-4], "labels": false, "title": null,
                "tickSize": {"condition": {"test": "abs(log(datum.value)/LN10 - round(log(datum.value)/LN10)) < 0.001", "value": -12}, "value": -6}}},
            "text": {"field": "head"}
          }
        },
        {
          "data": {"name": "zlabels"},
          "transform": [{"filter": "datum.panel == 'BR'"}],
          "mark": {"type": "text", "align": "left", "baseline": "alphabetic", "font": "DejaVu Sans", "fontSize": 17, "color": "#333", "dx": 1, "dy": 8},
          "encoding": {
            "x": {"field": "l", "type": "quantitative", "scale": {"type": "log", "domain": [6.3096, 100000], "nice": false}, "axis": null},
            "y": {"field": "v", "type": "quantitative", "scale": {"type": "log", "domain": [1e-8, 1.585e-4], "nice": false}, "axis": null},
            "text": {"field": "sub"}
          }
        },
        {
          "data": {"name": "zlabels"},
          "transform": [{"filter": "datum.panel == 'BR' && datum.sub == 'f'"}],
          "mark": {"type": "text", "align": "left", "baseline": "alphabetic", "font": "DejaVu Sans", "fontSize": 25, "color": "#333", "dx": 8},
          "encoding": {
            "x": {"field": "l", "type": "quantitative", "scale": {"type": "log", "domain": [6.3096, 100000], "nice": false}, "axis": null},
            "y": {"field": "v", "type": "quantitative", "scale": {"type": "log", "domain": [1e-8, 1.585e-4], "nice": false}, "axis": null},
            "text": {"field": "tail"}
          }
        },
        {
          "data": {"name": "zlabels"},
          "transform": [{"filter": "datum.panel == 'BR' && datum.sub == 'b'"}],
          "mark": {"type": "text", "align": "left", "baseline": "alphabetic", "font": "DejaVu Sans", "fontSize": 25, "color": "#333", "dx": 13},
          "encoding": {
            "x": {"field": "l", "type": "quantitative", "scale": {"type": "log", "domain": [6.3096, 100000], "nice": false}, "axis": null},
            "y": {"field": "v", "type": "quantitative", "scale": {"type": "log", "domain": [1e-8, 1.585e-4], "nice": false}, "axis": null},
            "text": {"field": "tail"}
          }
        }
      ]
    }
  ]
}
